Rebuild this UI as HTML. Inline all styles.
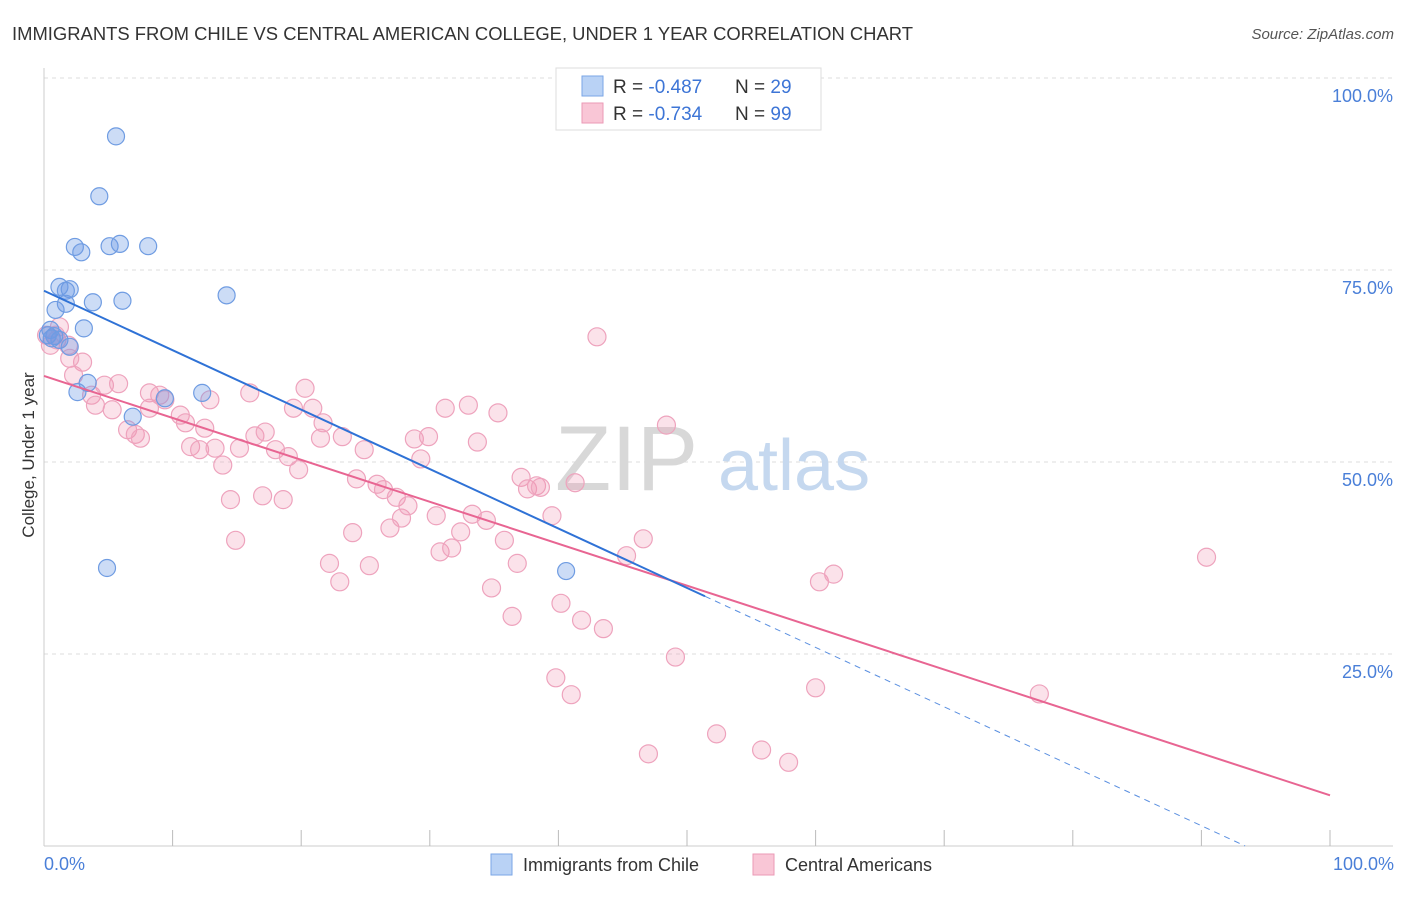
<!DOCTYPE html>
<html><head><meta charset="utf-8"><style>
body{margin:0;background:#fff;font-family:"Liberation Sans",sans-serif;}
svg text{font-family:"Liberation Sans",sans-serif;}
</style></head><body>
<svg id="chart" width="1406" height="892">
<text x="12" y="40" font-size="18" fill="#333" textLength="901" lengthAdjust="spacingAndGlyphs">IMMIGRANTS FROM CHILE VS CENTRAL AMERICAN COLLEGE, UNDER 1 YEAR CORRELATION CHART</text>
<text x="1394" y="39" font-size="15" fill="#555" font-style="italic" text-anchor="end">Source: ZipAtlas.com</text>
<g id="grid"></g>
<g>
<text x="555" y="490" font-size="92" font-family="Liberation Serif" fill="#d8d8d8">ZIP</text>
<text x="718" y="490" font-size="72" fill="#c5d8ef">atlas</text>
</g>
<g id="pts"></g>
<g id="lines"></g>
<text transform="translate(34,455) rotate(-90)" font-size="17" fill="#333" text-anchor="middle">College, Under 1 year</text>
<text x="44" y="870" font-size="18" fill="#4a7fd8">0.0%</text>
<text x="1394" y="870" font-size="18" fill="#4a7fd8" text-anchor="end">100.0%</text>
<g>
<rect x="556" y="68" width="265" height="62" fill="#fff" stroke="#ddd"/>
<rect x="582" y="76" width="21" height="20" fill="#b9d2f5" stroke="#7aa6e6"/>
<rect x="582" y="103" width="21" height="20" fill="#f9c6d6" stroke="#eb9ab6"/>
<text x="613" y="93" font-size="19" fill="#333">R = <tspan fill="#3d75d6">-0.487</tspan></text>
<text x="735" y="93" font-size="19" fill="#333">N = <tspan fill="#3d75d6">29</tspan></text>
<text x="613" y="120" font-size="19" fill="#333">R = <tspan fill="#3d75d6">-0.734</tspan></text>
<text x="735" y="120" font-size="19" fill="#333">N = <tspan fill="#3d75d6">99</tspan></text>
</g>
<g>
<rect x="491" y="854" width="21" height="21" fill="#b9d2f5" stroke="#7aa6e6"/>
<text x="523" y="871" font-size="18" fill="#333">Immigrants from Chile</text>
<rect x="753" y="854" width="21" height="21" fill="#f9c6d6" stroke="#eb9ab6"/>
<text x="785" y="871" font-size="18" fill="#333">Central Americans</text>
</g>
</svg>
<script>
const yTicks=[25,50,75,100];
const yTickLabels=["25.0%","50.0%","75.0%","100.0%"];
const xTicks=[10,20,30,40,50,60,70,80,90,100];
const chileX=[5.6,4.3,2.4,2.9,5.1,5.9,8.1,1.2,2.0,1.7,3.8,6.1,14.2,1.7,0.9,3.1,0.5,0.8,1.2,2.0,3.4,2.6,12.3,9.4,6.9,4.9,40.6,0.3,0.6];
const chileY=[92.4,84.6,78.0,77.3,78.1,78.4,78.1,72.8,72.5,72.3,70.8,71.0,71.7,70.6,69.8,67.4,67.2,66.4,65.9,65.0,60.3,59.1,59.0,58.3,55.9,36.2,35.8,66.5,66.1];
const centX=[0.5,1.2,1.0,1.9,3.0,2.0,2.3,3.7,4.7,4.0,5.8,5.3,6.5,7.1,7.5,8.2,8.2,9.0,9.4,10.6,11.0,11.4,12.1,12.5,12.9,13.3,13.9,14.5,14.9,15.2,16.0,16.4,17.0,17.2,18.0,18.6,19.0,19.4,19.8,20.3,20.9,21.5,21.7,23.2,22.2,23.0,24.0,24.3,24.9,25.3,25.9,26.4,26.9,27.4,27.8,28.3,28.8,29.3,29.9,30.5,30.8,31.2,31.7,32.4,33.0,33.3,33.7,34.4,34.8,35.3,35.8,36.4,36.8,37.1,37.6,38.3,38.6,39.5,39.8,40.2,41.0,41.3,41.8,43.0,43.5,45.3,46.6,47.0,48.4,49.1,52.3,55.8,57.9,60.0,60.3,61.4,77.4,90.4,0.2,0.9];
const centY=[65.2,67.6,65.9,65.2,63.0,63.5,61.3,58.7,60.0,57.4,60.2,56.8,54.2,53.6,53.1,59.0,57.0,58.7,58.1,56.1,55.1,52.0,51.6,54.4,58.1,51.8,49.6,45.1,39.8,51.8,59.0,53.4,45.6,53.9,51.6,45.1,50.7,57.0,49.0,59.6,57.0,53.1,55.1,53.3,36.8,34.4,40.8,47.8,51.6,36.5,47.1,46.4,41.4,45.4,42.7,44.3,53.0,50.4,53.3,43.0,38.3,57.0,38.8,40.9,57.4,43.2,52.6,42.4,33.6,56.4,39.8,29.9,36.8,48.0,46.5,46.9,46.7,43.0,21.9,31.6,19.7,47.3,29.4,66.3,28.3,37.8,40.0,12.0,54.8,24.6,14.6,12.5,10.9,20.6,34.4,35.4,19.8,37.6,66.5,66.5];
const chileTrend=[72.3,-0.774,51.4,93.4]; // intercept, slope, solid end, dashed end
const centTrend=[61.2,-0.546,100];
const NS="http://www.w3.org/2000/svg";
const X=v=>44+v*12.86, Y=v=>846-v*7.68;
function mk(tag,attrs,parent){const e=document.createElementNS(NS,tag);for(const k in attrs)e.setAttribute(k,attrs[k]);parent.appendChild(e);return e;}
const grid=document.getElementById('grid');
yTicks.forEach((t,i)=>{
 const l=mk('line',{x1:44,x2:1393,y1:Y(t),y2:Y(t),stroke:'#ddd','stroke-dasharray':'4,4'},grid);
 
 
 const tx=mk('text',{x:1393,y:Y(t)+24,'font-size':18,fill:'#4a7fd8','text-anchor':'end'},grid);
 tx.textContent=yTickLabels[i];
 
 
});
const ax=mk('line',{x1:44,x2:44,y1:68,y2:846,stroke:'#ccc'},grid);


const bx=mk('line',{x1:44,x2:1393,y1:846,y2:846,stroke:'#ccc'},grid);


xTicks.forEach(t=>{
 const l=mk('line',{x1:X(t),x2:X(t),y1:830,y2:846,stroke:'#bbb'},grid);
 
 
});
const pts=document.getElementById('pts');
centX.forEach((v,i)=>{
 const c=mk('circle',{cx:X(v),cy:Y(centY[i]),r:9,fill:'rgba(242,150,180,0.28)',stroke:'#eea3bd','stroke-width':1.2},pts);
 
 
});
chileX.forEach((v,i)=>{
 const c=mk('circle',{cx:X(v),cy:Y(chileY[i]),r:8.5,fill:'rgba(110,155,230,0.35)',stroke:'#6f9ce2','stroke-width':1.2},pts);
 
 
});
const lines=document.getElementById('lines');
const f=(tr,x)=>tr[0]+tr[1]*x;
const pl=mk('line',{x1:X(0),y1:Y(centTrend[0]),x2:X(centTrend[2]),y2:Y(centTrend[0]+centTrend[1]*centTrend[2]),stroke:'#e86592','stroke-width':2},lines);


const bl=mk('line',{x1:X(0),y1:Y(f(chileTrend,0)),x2:X(chileTrend[2]),y2:Y(f(chileTrend,chileTrend[2])),stroke:'#2f72d6','stroke-width':2},lines);


const bd=mk('line',{x1:X(chileTrend[2]),y1:Y(f(chileTrend,chileTrend[2])),x2:X(chileTrend[3]),y2:Y(f(chileTrend,chileTrend[3])),stroke:'#5a8fe0','stroke-width':1,'stroke-dasharray':'6,5'},lines);


</script>
</body></html>
